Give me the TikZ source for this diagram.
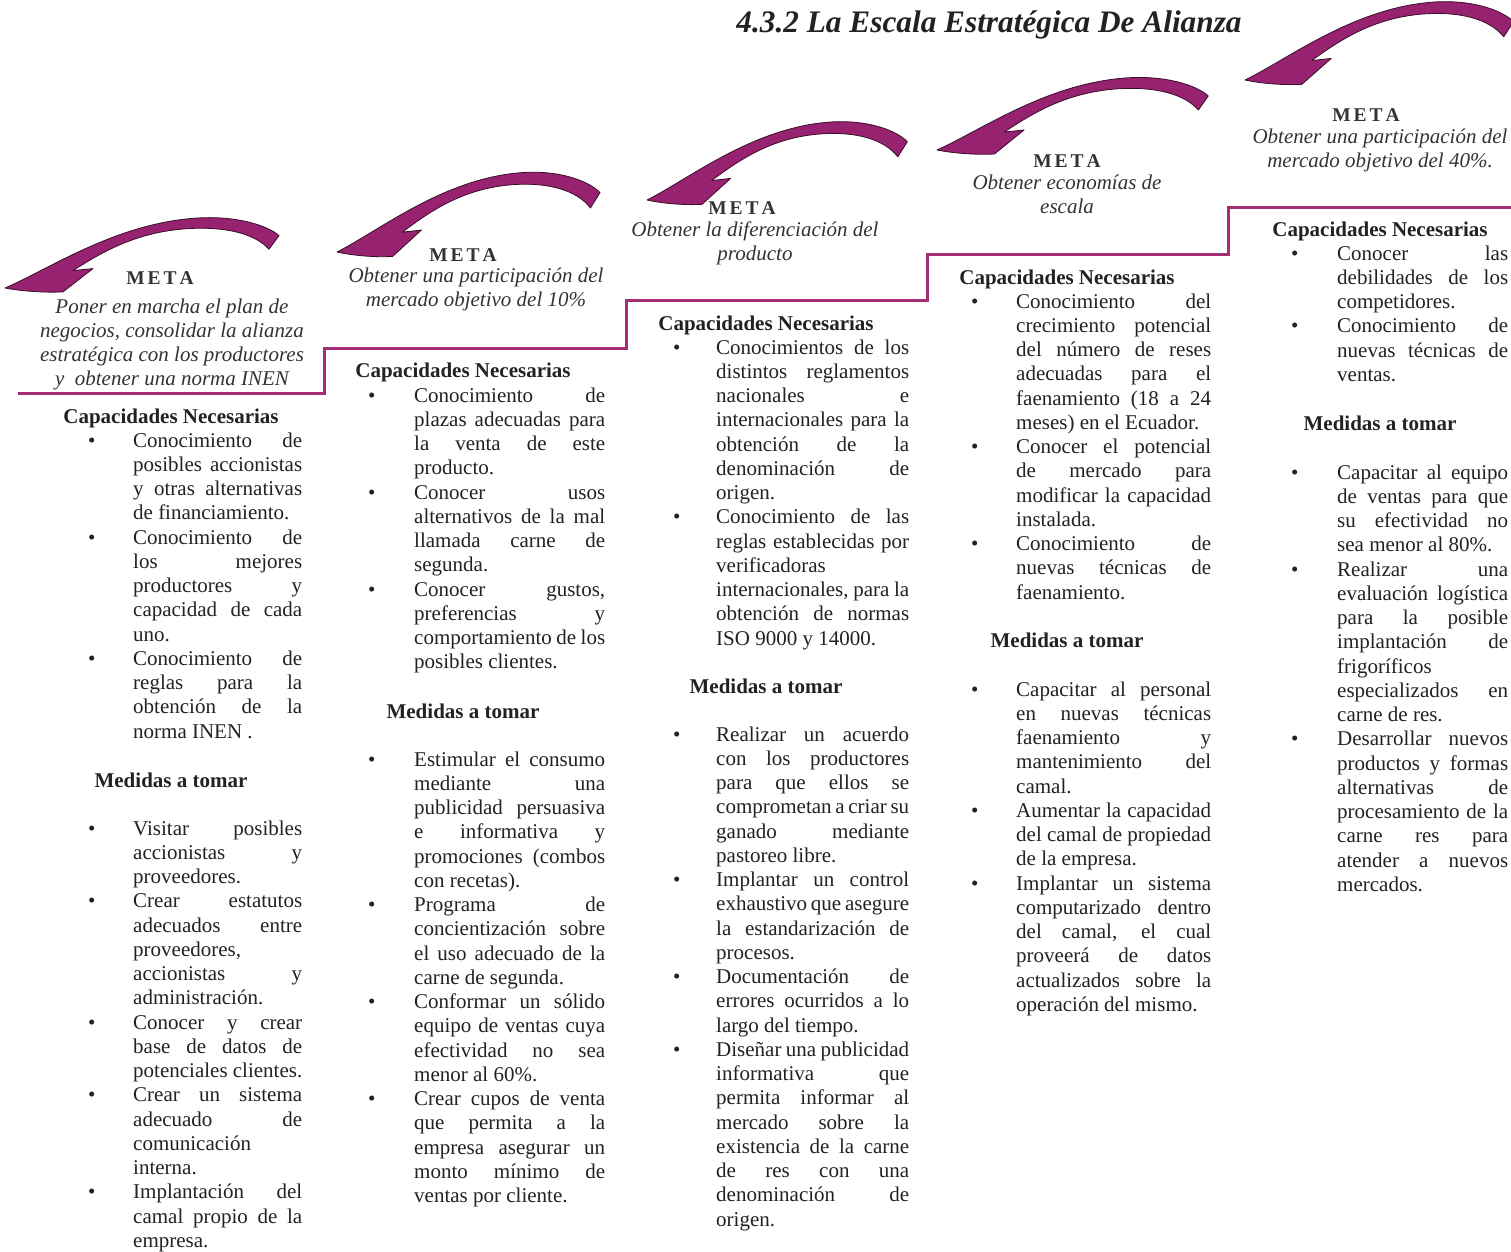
\documentclass[tikz,border=0pt]{standalone}
\usepackage{fontspec}
\setmainfont{Liberation Serif}
\hbadness=10000
\definecolor{ink}{HTML}{222222}
\definecolor{metagray}{HTML}{333333}
\definecolor{stair}{RGB}{165,45,115}
\definecolor{arrowfill}{RGB}{150,34,112}
\definecolor{arrowline}{RGB}{60,14,45}
\newlength\boff
\newlength\cw
% list lines: first line of an item (bullet + justified), justified line, free line
\newcommand\bitem[1]{\leavevmode\hbox to\boff{\textbullet\hss}\makebox[\cw][s]{#1}\par}
\newcommand\jline[1]{\leavevmode\hbox to\boff{\hss}\makebox[\cw][s]{#1}\par}
\newcommand\eline[1]{\leavevmode\hbox to\boff{\hss}#1\par}
\newcommand\sect[3]{\vtop{\setlength\boff{#1}\setlength\cw{#2}\hsize=\dimexpr#1+#2+40pt\relax\parindent=0pt\parskip=0pt\fontsize{21}{24.25}\selectfont #3}}
\newcommand\goalbox[1]{\vtop{\hsize=360pt\parindent=0pt\centering #1\par}}
\newcommand\metaword{M\kern3pt E\kern3pt T\kern3pt A}
\begin{document}
\begin{tikzpicture}[x=1pt,y=-1pt,
  lst/.style={anchor=base west,inner sep=0pt,text=ink},
  head/.style={anchor=base,inner sep=0pt,text=ink,font=\fontsize{21}{24}\selectfont\bfseries},
  meta/.style={anchor=base,inner sep=0pt,text=metagray,font=\fontsize{19.5}{22}\selectfont\bfseries},
  goal/.style={anchor=base,inner sep=0pt,text=metagray,font=\fontsize{21}{24}\selectfont\itshape},
  stairline/.style={draw=stair,line width=3pt,line join=miter},
  swoosh/.pic={
    \filldraw[fill=arrowfill,draw=arrowline,line width=0.8pt,line join=round]
      (0,0) .. controls (45,-20) and (110,-66) .. (190,-72)
      .. controls (230,-75) and (262,-65) .. (274,-54)
      -- (264,-40)
      .. controls (250,-56) and (220,-64) .. (180,-61)
      .. controls (130,-57) and (97,-37) .. (68,-18)
      -- (88,-20) -- (58,4)
      .. controls (38,5) and (15,3) .. (0,0) -- cycle;
  }]
\useasboundingbox (0,0) rectangle (1511,1251);
\clip (0,0) rectangle (1511,1251);
\fill[white] (0,0) rectangle (1511,1251);

% title
\node[anchor=base,inner sep=0pt,text=ink,font=\fontsize{31.3}{36}\selectfont\bfseries\itshape] (title) at (989,32) {4.3.2 La Escala Estratégica De Alianza};

% staircase
\coordinate (s0) at (18,393);
\coordinate (s9) at (1515,207);
\draw[stairline] (s0) -- (324,393) -- (324,348) -- (626,348) -- (626,300) -- (927,300) -- (927,254) -- (1228,254) -- (1228,207) -- (s9);

% curved arrows
\pic[xscale=1.0,yscale=0.97] at (5,288) {swoosh};
\pic[xscale=0.96,yscale=1.1] at (337,252) {swoosh};
\pic[xscale=0.95,yscale=1.08] at (647,200) {swoosh};
\pic[xscale=0.99,yscale=1.0] at (937,150) {swoosh};
\pic[xscale=0.98,yscale=1.08] at (1245,80) {swoosh};

% ---------- step 1 ----------
\node[meta] (m1) at (160,284) {\metaword};
\node[goal] (g1) at (172,313) {\goalbox{Poner en marcha el plan de\\negocios, consolidar la alianza\\estratégica con los productores\\y\ \ obtener una norma INEN}};
\node[head] (c1h) at (171,423) {Capacidades Necesarias};
\node[lst] (c1a) at (88,447) {\sect{45pt}{169pt}{%
\bitem{Conocimiento de}
\jline{posibles accionistas}
\jline{y otras alternativas}
\eline{de financiamiento.}
\bitem{Conocimiento de}
\jline{los mejores}
\jline{productores y}
\jline{capacidad de cada}
\eline{uno.}
\bitem{Conocimiento de}
\jline{reglas para la}
\jline{obtención de la}
\eline{norma INEN .}}};
\node[head] (c1m) at (171,787) {Medidas a tomar};
\node[lst] (c1b) at (88,835) {\sect{45pt}{169pt}{%
\bitem{Visitar posibles}
\jline{accionistas y}
\eline{proveedores.}
\bitem{Crear estatutos}
\jline{adecuados entre}
\eline{proveedores,}
\jline{accionistas y}
\eline{administración.}
\bitem{Conocer y crear}
\jline{base de datos de}
\eline{potenciales clientes.}
\bitem{Crear un sistema}
\jline{adecuado de}
\eline{comunicación}
\eline{interna.}
\bitem{Implantación del}
\jline{camal propio de la}
\eline{empresa.}}};

% ---------- step 2 ----------
\node[meta] (m2) at (463,261) {\metaword};
\node[goal] (g2) at (476,282) {\goalbox{Obtener una participación del\\mercado objetivo del 10\%}};
\node[head] (c2h) at (463,377) {Capacidades Necesarias};
\node[lst] (c2a) at (368,402) {\sect{46pt}{191pt}{%
\bitem{Conocimiento de}
\jline{plazas adecuadas para}
\jline{la venta de este}
\eline{producto.}
\bitem{Conocer usos}
\jline{alternativos de la mal}
\jline{llamada carne de}
\eline{segunda.}
\bitem{Conocer gustos,}
\jline{preferencias y}
\jline{comportamiento de los}
\eline{posibles clientes.}}};
\node[head] (c2m) at (463,718) {Medidas a tomar};
\node[lst] (c2b) at (368,766) {\sect{46pt}{191pt}{%
\bitem{Estimular el consumo}
\jline{mediante una}
\jline{publicidad persuasiva}
\jline{e informativa y}
\jline{promociones (combos}
\eline{con recetas).}
\bitem{Programa de}
\jline{concientización sobre}
\jline{el uso adecuado de la}
\eline{carne de segunda.}
\bitem{Conformar un sólido}
\jline{equipo de ventas cuya}
\jline{efectividad no sea}
\eline{menor al 60\%.}
\bitem{Crear cupos de venta}
\jline{que permita a la}
\jline{empresa asegurar un}
\jline{monto mínimo de}
\eline{ventas por cliente.}}};

% ---------- step 3 ----------
\node[meta] (m3) at (742,214) {\metaword};
\node[goal] (g3) at (755,236) {\goalbox{Obtener la diferenciación del\\producto}};
\node[head] (c3h) at (766,330) {Capacidades Necesarias};
\node[lst] (c3a) at (673,354) {\sect{43pt}{193pt}{%
\bitem{Conocimientos de los}
\jline{distintos reglamentos}
\jline{nacionales e}
\jline{internacionales para la}
\jline{obtención de la}
\jline{denominación de}
\eline{origen.}
\bitem{Conocimiento de las}
\jline{reglas establecidas por}
\eline{verificadoras}
\jline{internacionales, para la}
\jline{obtención de normas}
\eline{ISO 9000 y 14000.}}};
\node[head] (c3m) at (766,693) {Medidas a tomar};
\node[lst] (c3b) at (673,741) {\sect{43pt}{193pt}{%
\bitem{Realizar un acuerdo}
\jline{con los productores}
\jline{para que ellos se}
\jline{comprometan a criar su}
\jline{ganado mediante}
\eline{pastoreo libre.}
\bitem{Implantar un control}
\jline{exhaustivo que asegure}
\jline{la estandarización de}
\eline{procesos.}
\bitem{Documentación de}
\jline{errores ocurridos a lo}
\eline{largo del tiempo.}
\bitem{Diseñar una publicidad}
\jline{informativa que}
\jline{permita informar al}
\jline{mercado sobre la}
\jline{existencia de la carne}
\jline{de res con una}
\jline{denominación de}
\eline{origen.}}};

% ---------- step 4 ----------
\node[meta] (m4) at (1067,167) {\metaword};
\node[goal] (g4) at (1067,189) {\goalbox{Obtener economías de\\escala}};
\node[head] (c4h) at (1067,284) {Capacidades Necesarias};
\node[lst] (c4a) at (971,308) {\sect{45pt}{195pt}{%
\bitem{Conocimiento del}
\jline{crecimiento potencial}
\jline{del número de reses}
\jline{adecuadas para el}
\jline{faenamiento (18 a 24}
\eline{meses) en el Ecuador.}
\bitem{Conocer el potencial}
\jline{de mercado para}
\jline{modificar la capacidad}
\eline{instalada.}
\bitem{Conocimiento de}
\jline{nuevas técnicas de}
\eline{faenamiento.}}};
\node[head] (c4m) at (1067,647) {Medidas a tomar};
\node[lst] (c4b) at (971,696) {\sect{45pt}{195pt}{%
\bitem{Capacitar al personal}
\jline{en nuevas técnicas}
\jline{faenamiento y}
\jline{mantenimiento del}
\eline{camal.}
\bitem{Aumentar la capacidad}
\jline{del camal de propiedad}
\eline{de la empresa.}
\bitem{Implantar un sistema}
\jline{computarizado dentro}
\jline{del camal, el cual}
\jline{proveerá de datos}
\jline{actualizados sobre la}
\eline{operación del mismo.}}};

% ---------- step 5 ----------
\node[meta] (m5) at (1366,121) {\metaword};
\node[goal] (g5) at (1380,143) {\goalbox{Obtener una participación del\\mercado objetivo del 40\%.}};
\node[head] (c5h) at (1380,236) {Capacidades Necesarias};
\node[lst] (c5a) at (1291,260) {\sect{46pt}{171pt}{%
\bitem{Conocer las}
\jline{debilidades de los}
\eline{competidores.}
\bitem{Conocimiento de}
\jline{nuevas técnicas de}
\eline{ventas.}}};
\node[head] (c5m) at (1380,430) {Medidas a tomar};
\node[lst] (c5b) at (1291,479) {\sect{46pt}{171pt}{%
\bitem{Capacitar al equipo}
\jline{de ventas para que}
\jline{su efectividad no}
\eline{sea menor al 80\%.}
\bitem{Realizar una}
\jline{evaluación logística}
\jline{para la posible}
\jline{implantación de}
\eline{frigoríficos}
\jline{especializados en}
\eline{carne de res.}
\bitem{Desarrollar nuevos}
\jline{productos y formas}
\jline{alternativas de}
\jline{procesamiento de la}
\jline{carne res para}
\jline{atender a nuevos}
\eline{mercados.}}};
\end{tikzpicture}
\end{document}
